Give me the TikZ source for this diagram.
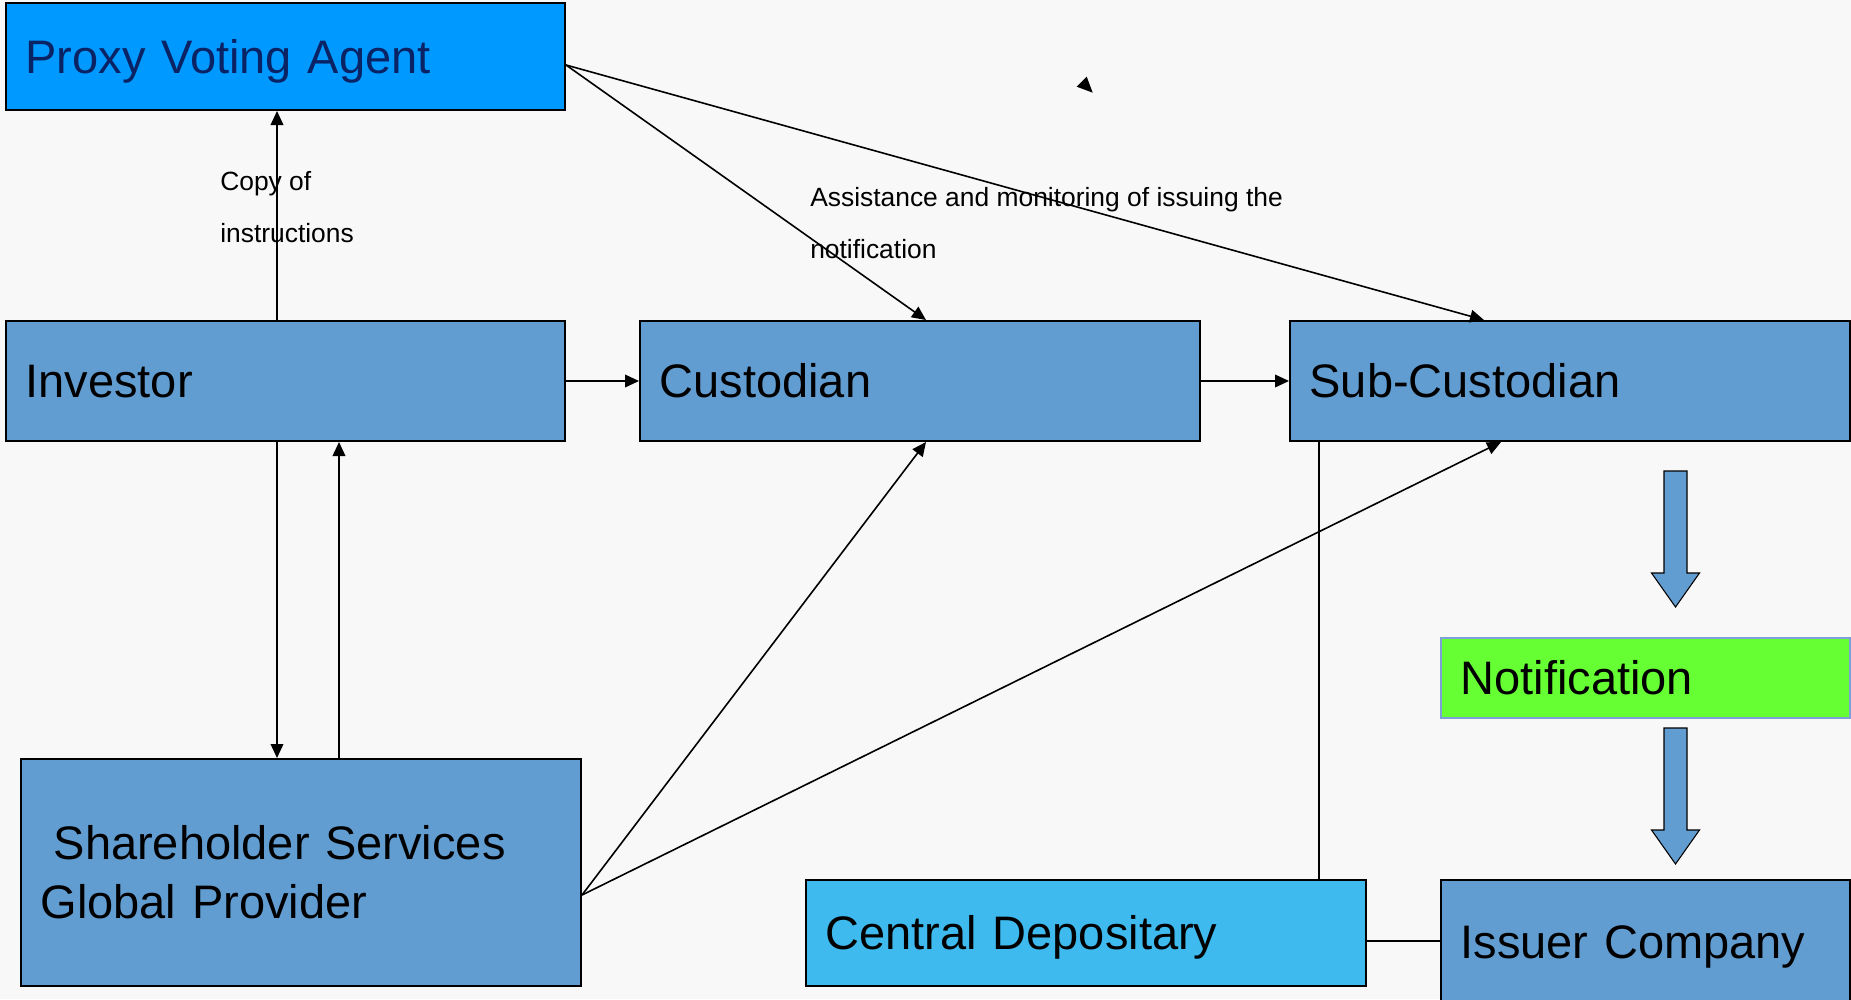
\documentclass[tikz,border=0pt]{standalone}
\usepackage{fontspec}
\setmainfont{Liberation Sans}
\usetikzlibrary{arrows.meta,calc}

\definecolor{boxblue}{RGB}{98,157,209}
\definecolor{proxyblue}{RGB}{0,153,255}
\definecolor{proxytext}{RGB}{10,35,100}
\definecolor{depblue}{RGB}{62,186,238}
\definecolor{notegreen}{RGB}{102,255,51}
\definecolor{noteedge}{RGB}{125,160,215}
\definecolor{paper}{RGB}{248,248,248}

\begin{document}
\begin{tikzpicture}[x=0.75pt,y=-0.75pt,
  box/.style={draw=black, line width=1.5pt, fill=boxblue, anchor=north west,
    inner xsep=14.7pt, inner ysep=0pt, align=left,
    font=\fontsize{35.25pt}{44pt}\selectfont},
  oneline/.style={box, text height=25.2pt, text depth=0pt},
  wide/.style={text width=390.6pt},
  narrow/.style={text width=277.35pt},
  note/.style={inner sep=0pt, anchor=north west, align=left,
    font=\fontsize{19.8pt}{39pt}\selectfont},
  conn/.style={line width=1.2pt, -{Triangle[length=10.5pt,width=9.5pt]}},
  plain/.style={line width=1.2pt},
  blockarrow/.style={draw=black, line width=0.8pt, fill=boxblue},
  blockdown/.pic={\draw[blockarrow] (-11.5,0) -- (11.5,0) -- (11.5,102) -- (24,102)
    -- (0,136) -- (-24,102) -- (-11.5,102) -- cycle;}]

% page and background
\useasboundingbox (0,0) rectangle (1851,999);
\fill[paper] (0,0) rectangle (1851,999);
\clip (0,0) rectangle (1851,999);

% boxes
\node[oneline, text width=389.85pt, minimum height=80.25pt, fill=proxyblue,
  text=proxytext] (proxy) at (5,2) {Proxy Voting Agent};
\node[oneline, text width=389.85pt, minimum height=90pt] (inv) at (5,320) {Investor};
\node[oneline, wide, minimum height=90pt] (cust) at (639,320) {Custodian};
\node[oneline, wide, minimum height=90pt] (sub) at (1289,320) {Sub-Custodian};
\node[oneline, narrow, minimum height=60pt, fill=notegreen, draw=noteedge]
  (notif) at (1440,637) {Notification};
\node[box, wide, minimum height=170.25pt] (share) at (20,758)
  {\hspace*{0.278em}Shareholder Services\\Global Provider};
\node[oneline, wide, minimum height=79.5pt, fill=depblue] (central) at (805,879)
  {Central Depositary};
\node[oneline, narrow, minimum height=93pt] (issuer) at (1440,879) {Issuer Company};

% connection points
\coordinate (pvout) at ($(proxy.east)+(0,8.5)$);
\coordinate (ssout) at ($(share.east)+(0,22.5)$);
\coordinate (upA) at ($(inv.north)+(-8.5,0)$);
\coordinate (downA) at ($(inv.south)+(-8.5,0)$);
\coordinate (upB) at ($(inv.south)+(53.5,0)$);
\coordinate (custTop) at ($(cust.north)+(6,0)$);
\coordinate (custBot) at ($(cust.south)+(6,0)$);
\coordinate (subTop) at ($(sub.north)+(-86,0)$);
\coordinate (subBot) at ($(sub.south)+(-69,0)$);
\coordinate (subDrop) at ($(sub.south west)+(30,0)$);
\coordinate (depLink) at ($(central.east)+(0,8)$);

% connectors
\draw[conn] (upA) -- (upA |- proxy.south);
\draw[conn] (downA) -- (downA |- share.north);
\draw[conn] (upB |- share.north) -- (upB);
\draw[conn] (inv) -- (cust);
\draw[conn] (cust) -- (sub);
\draw[conn] (pvout) -- (custTop);
\draw[conn] (pvout) -- (subTop);
\draw[conn] (ssout) -- (custBot);
\draw[conn] (ssout) -- (subBot);
\draw[plain] (subDrop) -- (subDrop |- central.north);
\draw[plain] (depLink) -- (depLink -| issuer.west);

% block arrows down the right column
\pic at (1675.5,471) {blockdown};
\pic at (1675.5,728) {blockdown};

% lone arrowhead
\fill (1086.7,76.7) -- (1076.7,86.7) -- (1092.7,92.7) -- cycle;

% connector notes
\node[note] (copynote) at (220,171) {Copy of\\instructions};
\node[note] (assistnote) at (810,187) {Assistance and monitoring of issuing the\\notification};
\end{tikzpicture}
\end{document}
